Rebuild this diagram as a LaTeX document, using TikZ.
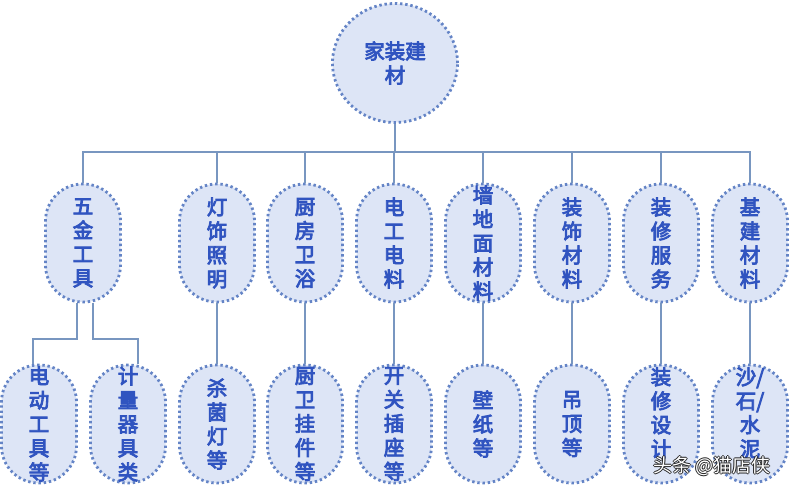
\documentclass[tikz,border=0pt]{standalone}
\usepackage{fontspec}
\newfontfamily\cjk[FakeBold=4]{Noto Sans CJK SC}
\newfontfamily\cjkplain{Noto Sans CJK SC}
\usetikzlibrary{shapes.geometric}
\definecolor{nodefill}{RGB}{221,229,246}
\definecolor{nodeborder}{RGB}{100,132,198}
\definecolor{nodetext}{RGB}{48,84,192}
\definecolor{linkcol}{RGB}{120,150,192}
\begin{document}
\begin{tikzpicture}[x=1pt,y=-1pt,
  base/.style={fill=nodefill,draw=nodeborder,line width=2.8pt,
    dash pattern=on 2.4pt off 2.8pt,text=nodetext,
    font=\cjk\fontsize{20.5}{24}\selectfont,align=center,inner sep=0pt},
  topnode/.style={base,ellipse,minimum width=125pt,minimum height=119pt},
  cat/.style={base,rectangle,rounded corners=37pt,minimum width=75pt,minimum height=118pt},
  link/.style={draw=linkcol,line width=1.2pt}]
\useasboundingbox (0,0) rectangle (789,493);
\node[topnode] (root) at (395,63) {家装建\\材};
\node[cat] (c1) at (83,243) {五\\金\\工\\具};
\node[cat] (c2) at (217,243) {灯\\饰\\照\\明};
\node[cat] (c3) at (305,243) {厨\\房\\卫\\浴};
\node[cat] (c4) at (394,243) {电\\工\\电\\料};
\node[cat] (c5) at (483,243) {墙\\地\\面\\材\\料};
\node[cat] (c6) at (572,243) {装\\饰\\材\\料};
\node[cat] (c7) at (661,243) {装\\修\\服\\务};
\node[cat] (c8) at (750,243) {基\\建\\材\\料};
\node[cat] (s1) at (39,424) {电\\动\\工\\具\\等};
\node[cat] (s2) at (128,424) {计\\量\\器\\具\\类};
\node[cat] (s3) at (217,424) {杀\\菌\\灯\\等};
\node[cat] (s4) at (305,424) {厨\\卫\\挂\\件\\等};
\node[cat] (s5) at (394,424) {开\\关\\插\\座\\等};
\node[cat] (s6) at (483,424) {壁\\纸\\等};
\node[cat] (s7) at (572,424) {吊\\顶\\等};
\node[cat] (s8) at (661,424) {装\\修\\设\\计\\\mbox{}};
\node[cat] (s9) at (750,424) {沙/\\石/\\水\\泥\\\mbox{}};
\coordinate (bus) at (395,152);
\path[link] (root.south) -- (bus);
\foreach \c in {c1,c2,c3,c4,c5,c6,c7,c8}
  \path[link] (root.south) |- (\c.north |- bus) -- (\c.north);
\path[link] (c1.south -| 77,0) |- (33,339) -- (s1.north -| 33,0);
\path[link] (c1.south -| 93,0) |- (138,339) -- (s2.north -| 138,0);
\foreach \a/\b in {c2/s3,c3/s4,c4/s5,c5/s6,c6/s7,c7/s8,c8/s9}
  \path[link] (\a.south) -- (\b.north);
\begin{scope}[font=\cjkplain\fontsize{19}{22}\selectfont]
\foreach \dx/\dy in {-0.9/0,0.9/0,0/-0.9,0/0.9}
  \node[text=black!85] at (712+\dx,466+\dy) {头条 @猫店侠};
\node[text=white] (wm) at (712,466) {头条 @猫店侠};
\end{scope}
\end{tikzpicture}
\end{document}
